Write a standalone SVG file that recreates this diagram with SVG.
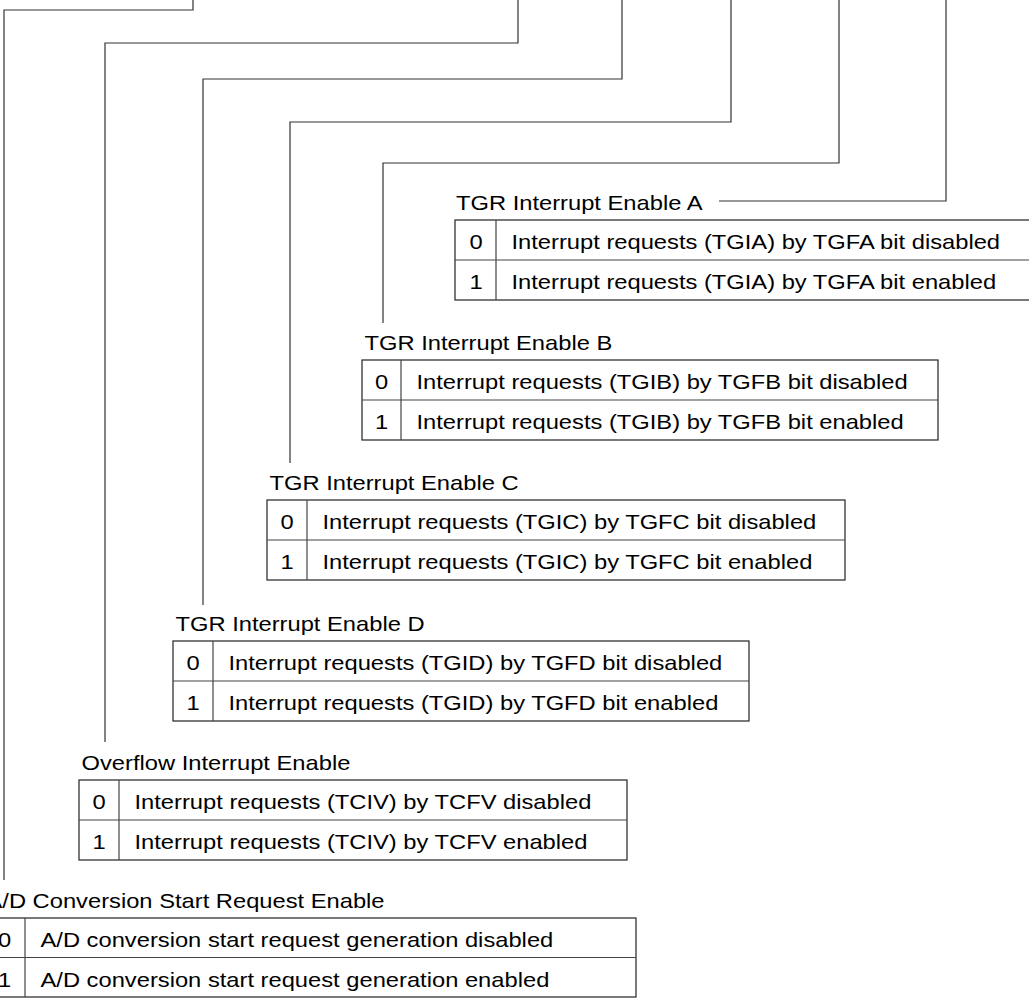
<svg xmlns="http://www.w3.org/2000/svg" width="1029" height="1002" viewBox="0 0 1029 1002">
<style>
  .t { font-family: "Liberation Sans", Arial, sans-serif; font-size: 21px; fill: #000; }
  .n { font-family: "Liberation Sans", Arial, sans-serif; font-size: 21px; fill: #000; text-anchor: middle; }
  .box { fill: none; stroke: #222; stroke-width: 1.2; }
  .div { stroke: #444; stroke-width: 1.2; fill: none; }
  .wire { fill: none; stroke: #333; stroke-width: 1.2; }
</style>
<rect x="0" y="0" width="1029" height="1002" fill="#fff"/>

<g id="connectors">
  <polyline class="wire" points="193,0 193,10 4,10 4,880"/>
  <polyline class="wire" points="518,0 518,43 105,43 105,742"/>
  <polyline class="wire" points="622,0 622,79 203,79 203,605"/>
  <polyline class="wire" points="731,0 731,122 290,122 290,463"/>
  <polyline class="wire" points="839,0 839,163 383,163 383,323"/>
  <polyline class="wire" points="946,0 946,201 719,201"/>
</g>

<g id="tgiea">
  <text class="t" transform="translate(456,210) scale(1.13,1)">TGR Interrupt Enable A</text>
  <rect class="box" x="455" y="220" width="600" height="80"/>
  <line class="div" x1="455" y1="260" x2="1055" y2="260"/>
  <line class="div" x1="496" y1="220" x2="496" y2="300"/>
  <text class="n" transform="translate(476,249) scale(1.13,1)">0</text>
  <text class="n" transform="translate(476,289) scale(1.13,1)">1</text>
  <text class="t" transform="translate(511.5,249) scale(1.13,1)">Interrupt requests (TGIA) by TGFA bit disabled</text>
  <text class="t" transform="translate(511.5,289) scale(1.13,1)">Interrupt requests (TGIA) by TGFA bit enabled</text>
</g>

<g id="tgieb">
  <text class="t" transform="translate(364.5,350) scale(1.13,1)">TGR Interrupt Enable B</text>
  <rect class="box" x="362" y="360" width="576" height="80"/>
  <line class="div" x1="362" y1="400" x2="938" y2="400"/>
  <line class="div" x1="401" y1="360" x2="401" y2="440"/>
  <text class="n" transform="translate(381.5,389) scale(1.13,1)">0</text>
  <text class="n" transform="translate(381.5,429) scale(1.13,1)">1</text>
  <text class="t" transform="translate(416.5,389) scale(1.13,1)">Interrupt requests (TGIB) by TGFB bit disabled</text>
  <text class="t" transform="translate(416.5,429) scale(1.13,1)">Interrupt requests (TGIB) by TGFB bit enabled</text>
</g>

<g id="tgiec">
  <text class="t" transform="translate(269.5,490) scale(1.13,1)">TGR Interrupt Enable C</text>
  <rect class="box" x="267" y="500" width="578" height="80"/>
  <line class="div" x1="267" y1="540" x2="845" y2="540"/>
  <line class="div" x1="307" y1="500" x2="307" y2="580"/>
  <text class="n" transform="translate(287,529) scale(1.13,1)">0</text>
  <text class="n" transform="translate(287,569) scale(1.13,1)">1</text>
  <text class="t" transform="translate(322.5,529) scale(1.13,1)">Interrupt requests (TGIC) by TGFC bit disabled</text>
  <text class="t" transform="translate(322.5,569) scale(1.13,1)">Interrupt requests (TGIC) by TGFC bit enabled</text>
</g>

<g id="tgied">
  <text class="t" transform="translate(175.5,631) scale(1.13,1)">TGR Interrupt Enable D</text>
  <rect class="box" x="173" y="641" width="576" height="80"/>
  <line class="div" x1="173" y1="681" x2="749" y2="681"/>
  <line class="div" x1="213" y1="641" x2="213" y2="721"/>
  <text class="n" transform="translate(193,670) scale(1.13,1)">0</text>
  <text class="n" transform="translate(193,710) scale(1.13,1)">1</text>
  <text class="t" transform="translate(228.5,670) scale(1.13,1)">Interrupt requests (TGID) by TGFD bit disabled</text>
  <text class="t" transform="translate(228.5,710) scale(1.13,1)">Interrupt requests (TGID) by TGFD bit enabled</text>
</g>

<g id="tciev">
  <text class="t" transform="translate(81.5,770) scale(1.13,1)">Overflow Interrupt Enable</text>
  <rect class="box" x="79" y="780" width="548" height="80"/>
  <line class="div" x1="79" y1="820" x2="627" y2="820"/>
  <line class="div" x1="119" y1="780" x2="119" y2="860"/>
  <text class="n" transform="translate(99,809) scale(1.13,1)">0</text>
  <text class="n" transform="translate(99,849) scale(1.13,1)">1</text>
  <text class="t" transform="translate(134.5,809) scale(1.13,1)">Interrupt requests (TCIV) by TCFV disabled</text>
  <text class="t" transform="translate(134.5,849) scale(1.13,1)">Interrupt requests (TCIV) by TCFV enabled</text>
</g>

<g id="ttge">
  <text class="t" transform="translate(-13.5,908) scale(1.13,1)">A/D Conversion Start Request Enable</text>
  <rect class="box" x="-15.5" y="918" width="651.5" height="79"/>
  <line class="div" x1="-15.5" y1="957.5" x2="636" y2="957.5"/>
  <line class="div" x1="25" y1="918" x2="25" y2="997"/>
  <text class="n" transform="translate(4.5,947) scale(1.13,1)">0</text>
  <text class="n" transform="translate(4.5,986.5) scale(1.13,1)">1</text>
  <text class="t" transform="translate(40.5,947) scale(1.13,1)">A/D conversion start request generation disabled</text>
  <text class="t" transform="translate(40.5,986.5) scale(1.13,1)">A/D conversion start request generation enabled</text>
</g>
</svg>
